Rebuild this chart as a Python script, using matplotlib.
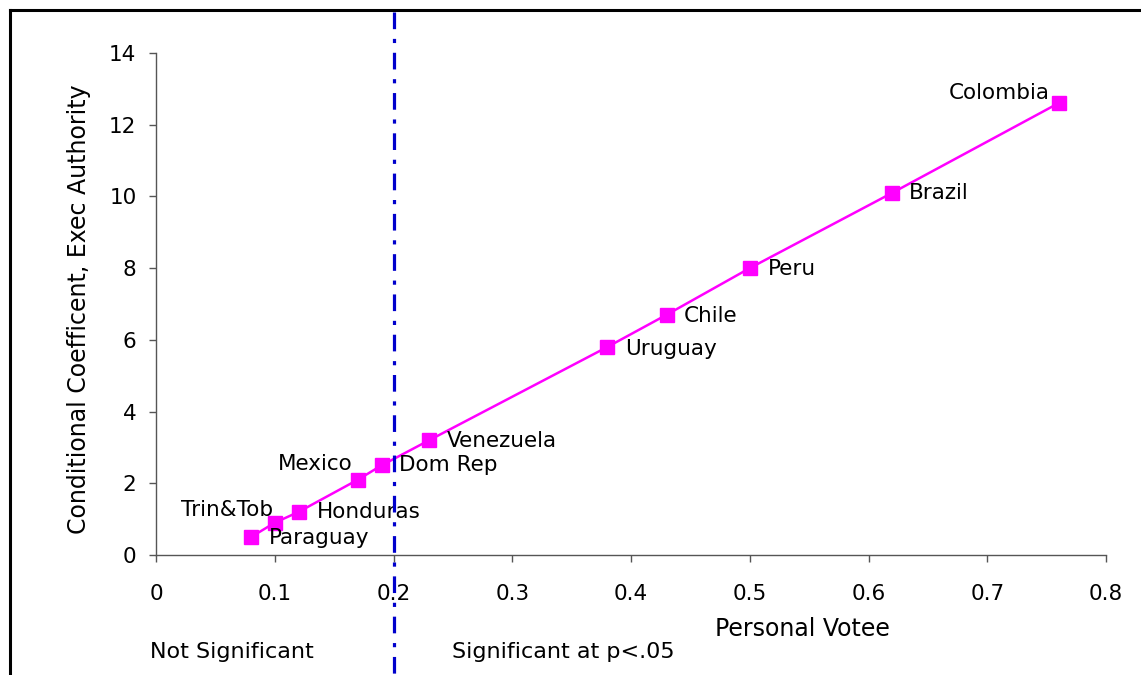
import matplotlib
matplotlib.use("Agg")
import matplotlib.pyplot as plt
from matplotlib.lines import Line2D
import matplotlib.transforms as mtransforms

plt.rcParams['font.family'] = ['DejaVu Sans']
plt.rcParams['lines.scale_dashes'] = False

countries = ["Paraguay", "Trin&Tob", "Honduras", "Mexico", "Dom Rep", "Venezuela",
             "Uruguay", "Chile", "Peru", "Brazil", "Colombia"]
personal_vote = [0.08, 0.10, 0.12, 0.17, 0.19, 0.23, 0.38, 0.43, 0.50, 0.62, 0.76]
coefficient = [0.5, 0.9, 1.2, 2.1, 2.5, 3.2, 5.8, 6.7, 8.0, 10.1, 12.6]
x_ticks = [0, 0.1, 0.2, 0.3, 0.4, 0.5, 0.6, 0.7, 0.8]
x_ticklabels = ["0", "0.1", "0.2", "0.3", "0.4", "0.5", "0.6", "0.7", "0.8"]
y_ticks = [0, 2, 4, 6, 8, 10, 12, 14]
threshold = 0.2

# label offsets in pixels (dx, dy) and horizontal alignment
label_pos = {
    "Paraguay": (18, -1, "left"),
    "Trin&Tob": (-2, 13, "right"),
    "Honduras": (18, 0, "left"),
    "Mexico": (-5, 16, "right"),
    "Dom Rep": (17, 0, "left"),
    "Venezuela": (18, -1, "left"),
    "Uruguay": (18, -2, "left"),
    "Chile": (17, -1, "left"),
    "Peru": (18, -1, "left"),
    "Brazil": (17, 0, "left"),
    "Colombia": (-9, 10, "right"),
}

W, H = 1141, 675
fig = plt.figure(figsize=(W / 100, H / 100), dpi=100)
ax = fig.add_axes([156 / W, 1 - 555 / H, 950 / W, 502 / H])

ax.plot(personal_vote, coefficient, color="#FF00FF", lw=1.8, marker="s",
        markersize=10.5, markeredgecolor="#FF00FF", zorder=3)

px2pt = 0.72
for name, xv, yv in zip(countries, personal_vote, coefficient):
    dx, dy, ha = label_pos[name]
    ax.annotate(name, (xv, yv), xytext=(dx * px2pt, dy * px2pt),
                textcoords="offset points", ha=ha, va="center",
                fontsize=15.5, color="black", zorder=4)

# vertical threshold line spanning the figure height
trans = mtransforms.blended_transform_factory(ax.transData, fig.transFigure)
vline = Line2D([threshold, threshold], [1 - 12 / H, 0], transform=trans,
               color="#0000CC", lw=2.3, dashes=(12, 7, 3, 7), clip_on=False, zorder=2)
fig.add_artist(vline)

ax.set_xlim(0, 0.8)
ax.set_ylim(0, 14)
ax.set_xticks(x_ticks)
ax.set_xticklabels(x_ticklabels)
ax.set_yticks(y_ticks)
for s in ["top", "right"]:
    ax.spines[s].set_visible(False)
for s in ["left", "bottom"]:
    ax.spines[s].set_color("#555555")
    ax.spines[s].set_linewidth(1.0)
ax.tick_params(axis="both", direction="out", length=5, width=1.0, color="#555555",
               labelsize=15.5, labelcolor="black")
ax.tick_params(axis="x", pad=16)
ax.tick_params(axis="y", pad=9)

ax.set_ylabel("Conditional Coefficent, Exec Authority", fontsize=17)
ax.yaxis.set_label_coords((91 - 156) / 950, 0.49)

fig.text(802 / W, 1 - 629 / H, "Personal Votee", ha="center", va="center",
         fontsize=17)
fig.text(150 / W, 1 - 652 / H, "Not Significant", ha="left", va="center", fontsize=16)
fig.text(452 / W, 1 - 652 / H, "Significant at p<.05", ha="left", va="center",
         fontsize=16)

# figure border (left and top)
fig.add_artist(Line2D([10 / W, 10 / W], [0, 1 - 10 / H], transform=fig.transFigure,
                      color="black", lw=2.2, solid_capstyle="projecting"))
fig.add_artist(Line2D([10 / W, 1], [1 - 10 / H, 1 - 10 / H], transform=fig.transFigure,
                      color="black", lw=2.2, solid_capstyle="projecting"))

fig.savefig("out.png", dpi=100)
